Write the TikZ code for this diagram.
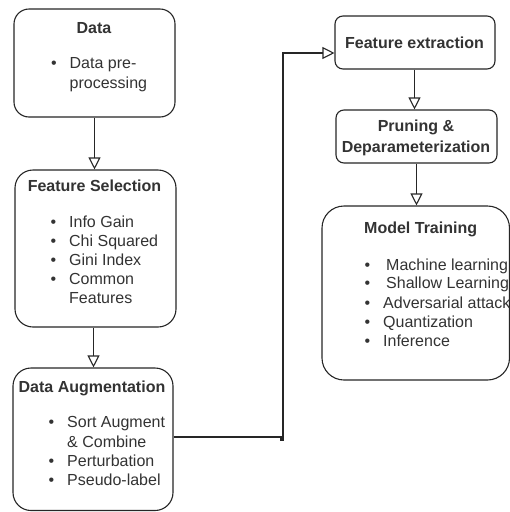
\documentclass[tikz,border=0pt]{standalone}
\usepackage{fontspec}
\setmainfont{Liberation Sans}
\usetikzlibrary{arrows.meta}
\newcommand\bul{\llap{\textbullet\hspace{13pt}}}
\begin{document}
\begin{tikzpicture}[x=1pt,y=-1pt,
  box/.style={draw=black!85, line width=1.1pt, inner sep=0pt, fill=white},
  ttl/.style={font=\fontsize{16}{19}\selectfont\bfseries, text=black!80, inner sep=0pt, anchor=base},
  itm/.style={font=\fontsize{16}{19}\selectfont, text=black!80, inner sep=0pt, anchor=base west},
  link/.style={draw=black!85, line width=1.1pt, -{Triangle[open,length=12pt,width=12pt]}},
]
\useasboundingbox (0,0) rectangle (510,512);

% boxes
\node[box, rounded corners=15pt, minimum width=161pt, minimum height=108pt] (data) at (94.5,63) {};
\node[box, rounded corners=18pt, minimum width=161pt, minimum height=157pt] (fsel) at (95.5,248.5) {};
\node[box, rounded corners=18pt, minimum width=160pt, minimum height=142.5pt] (aug) at (93,439.25) {};
\node[box, rounded corners=8pt, minimum width=160pt, minimum height=53pt] (fext) at (415,42.5) {};
\node[box, rounded corners=8pt, minimum width=161pt, minimum height=53pt] (prune) at (416.5,136.5) {};
\node[box, rounded corners=22pt, minimum width=187.5pt, minimum height=174pt] (model) at (415.75,293) {};

% Data
\node[ttl] (dataT) at (94,33) {Data};
\node[itm] (data1) at (69.5,68) {\bul Data pre-};
\node[itm] (data2) at (69.5,88) {processing};

% Feature Selection
\node[ttl] (fselT) at (94.5,191) {Feature Selection};
\node[itm] (fsel1) at (69,227) {\bul Info Gain};
\node[itm] (fsel2) at (69,246) {\bul Chi Squared};
\node[itm] (fsel3) at (69,265) {\bul Gini Index};
\node[itm] (fsel4) at (69,284) {\bul Common};
\node[itm] (fsel5) at (69,303) {Features};

% Data Augmentation
\node[ttl] (augT) at (92,392) {Data Augmentation};
\node[itm] (aug1) at (67,427) {\bul Sort Augment};
\node[itm] (aug2) at (67,447) {\& Combine};
\node[itm] (aug3) at (67,466) {\bul Perturbation};
\node[itm] (aug4) at (67,485) {\bul Pseudo-label};

% Feature extraction, Pruning
\node[ttl] (fextT) at (414.5,48) {Feature extraction};
\node[ttl] (pruneT1) at (416,131) {Pruning \&};
\node[ttl] (pruneT2) at (416,152) {Deparameterization};

% Model Training
\node[ttl, anchor=base west] (modelT) at (364,233) {Model Training};
\node[itm] (model1) at (383,270) {\bul\hspace{3pt}Machine learning};
\node[itm] (model2) at (383,288) {\bul\hspace{3pt}Shallow Learning};
\node[itm] (model3) at (383,308) {\bul Adversarial attack};
\node[itm] (model4) at (383,327) {\bul Quantization};
\node[itm] (model5) at (383,346) {\bul Inference};

% connectors
\draw[link] (data.south) -- (data.south |- fsel.north);
\draw[link] ([xshift=-2pt]fsel.south) -- ([xshift=-2pt]fsel.south |- aug.north);
\draw[link] ([xshift=-0.5pt]fext.south) -- ([xshift=-0.5pt]fext.south |- prune.north);
\draw[link] (prune.south) -- (prune.south |- model.north);
\coordinate (j1) at (281,437);
\coordinate (j2) at (283,440);
\coordinate (fin) at (283,53);
\draw[link] (aug.east |- j1) -- (j1) -- (j1 |- j2) -- (j2) -- (fin) -- (fin -| fext.west);
\end{tikzpicture}
\end{document}
